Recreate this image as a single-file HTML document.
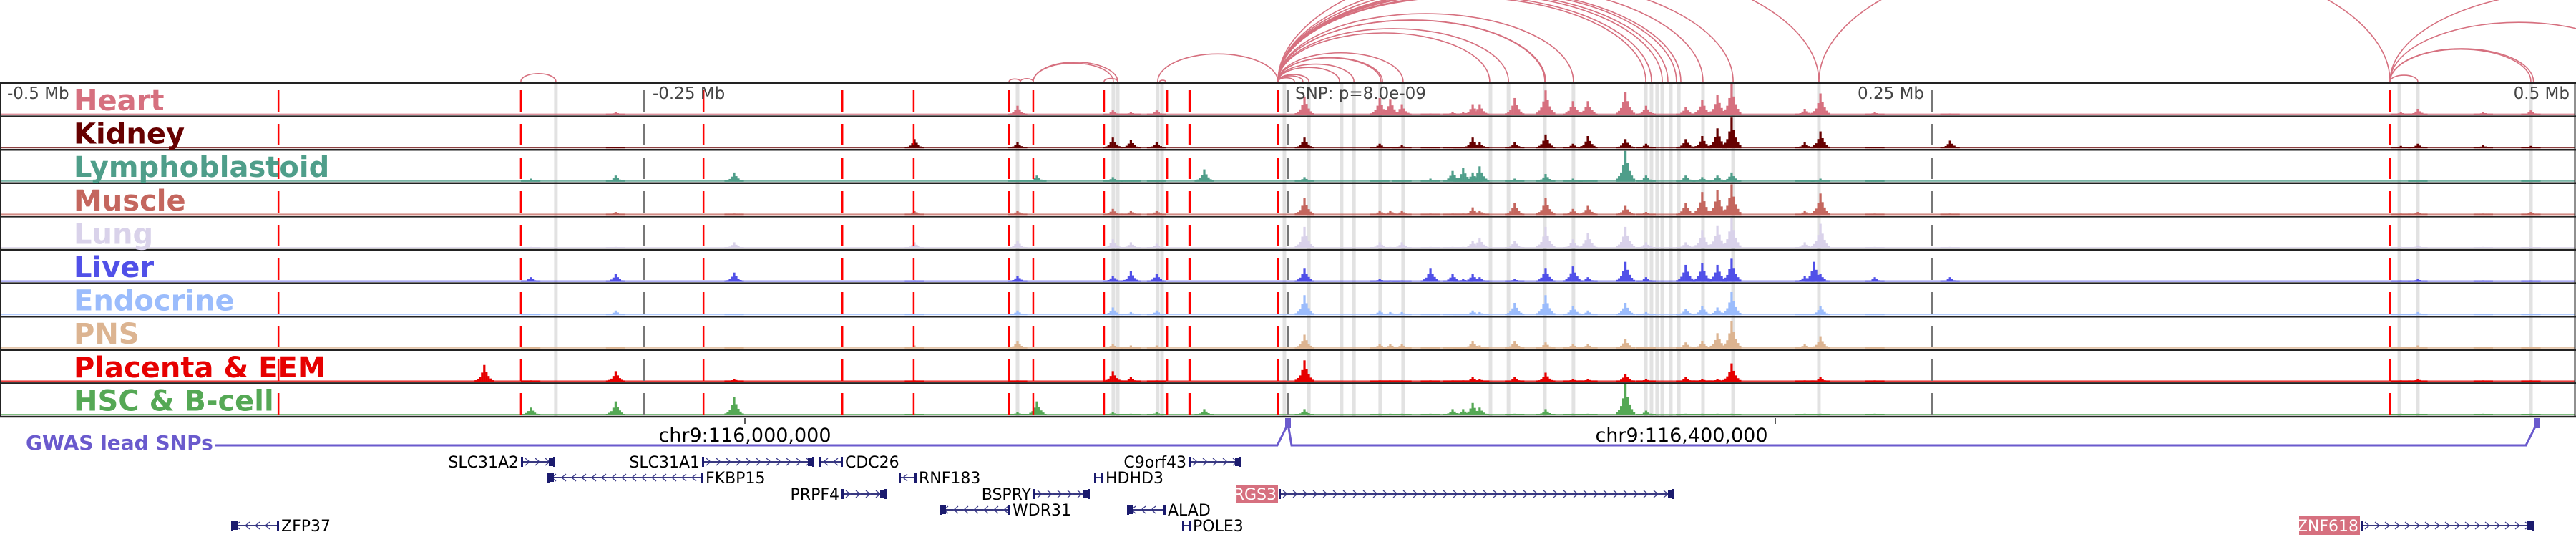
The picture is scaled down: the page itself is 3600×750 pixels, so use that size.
<!DOCTYPE html>
<html><head><meta charset="utf-8">
<style>
html,body{margin:0;padding:0;background:#fff;}
svg{display:block;}
text{font-family:"DejaVu Sans","Liberation Sans",sans-serif;}
</style></head>
<body>
<svg id="fig" width="3600" height="750" viewBox="0 0 3600 750" xmlns="http://www.w3.org/2000/svg">
<g id="bands"></g>
<g id="signals"></g>
<g id="snplines"></g>
<g id="arcs"></g>
<g id="frames"></g>
<g id="labels"></g>
<g id="axis">
  <text x="10" y="138" font-size="23" fill="#444">-0.5 Mb</text>
  <text x="912" y="138" font-size="23" fill="#444">-0.25 Mb</text>
  <text x="1810" y="138" font-size="23" fill="#444">SNP: p=8.0e-09</text>
  <text x="2689" y="138" font-size="23" fill="#444" text-anchor="end">0.25 Mb</text>
  <text x="3591" y="138" font-size="23" fill="#444" text-anchor="end">0.5 Mb</text>
</g>
<g id="gwas">
  <text x="36" y="628" font-size="28" font-weight="bold" fill="#6a5acd">GWAS lead SNPs</text>
  <polyline points="300,622 1785,622 1800,592" fill="none" stroke="#6a5acd" stroke-width="3"/>
  <polyline points="1800,592 1805,622 3530,622 3545,592" fill="none" stroke="#6a5acd" stroke-width="3"/>
  <rect x="1796" y="584" width="8" height="14" fill="#6a5acd"/>
  <rect x="3541" y="584" width="8" height="14" fill="#6a5acd"/>
  <line x1="1041" y1="584" x2="1041" y2="592" stroke="#222" stroke-width="1.5"/>
  <line x1="2481" y1="584" x2="2481" y2="592" stroke="#222" stroke-width="1.5"/>
  <text x="1041" y="617" font-size="27" text-anchor="middle" fill="#000">chr9:116,000,000</text>
  <text x="2350" y="617" font-size="27" text-anchor="middle" fill="#000">chr9:116,400,000</text>
</g>
<g id="genes"></g>
</svg>
<script>
// ---- data (genomic positions in kb relative to lead SNP) ----
const trackNames = ["Heart","Kidney","Lymphoblastoid","Muscle","Lung","Liver","Endocrine","PNS","Placenta & EEM","HSC & B-cell"];
const trackColors = ["#d6707f","#660000","#4f9e8a","#c4665e","#d9d2ea","#5050e8","#9bbcfc","#dcb491","#e60000","#55a855"];
const peakPos = [-312,-294,-261,-215,-145,-105,-97.5,-68,-61,-51,-32.5,6.4,35.6,39.7,44.2,55.3,63.9,68,71.7,74.4,88,100,110.6,116.4,131,139,154.4,160.8,166.7,172.2,200.6,204.2,206.7,227.8,257,432,438.6,464,482.5];
const heartVals =   [0,0,0.1,0,0,0.3,0,0.15,0.1,0.15,0,0.6,0.55,0.52,0.35,0.05,0.1,0.1,0.35,0.35,0.55,0.8,0.45,0.45,0.75,0.3,0.25,0.5,0.65,1.0,0.2,0,0.7,0.1,0.05,0.1,0.2,0.1,0.15];
const kidneyVals =  [0,0,0.05,0,0.3,0.2,0,0.35,0.28,0.2,0,0.35,0.15,0.05,0.1,0.05,0.05,0.05,0.35,0.2,0.2,0.45,0.15,0.4,0.3,0.15,0.3,0.4,0.65,1.0,0.2,0,0.55,0.05,0.25,0.08,0.15,0.1,0.08];
const lymphoVals =  [0,0.1,0.2,0.3,0,0.05,0.2,0.15,0.05,0.05,0.4,0.15,0.05,0,0.05,0.1,0.35,0.45,0.3,0.5,0.1,0.25,0.1,0.05,1.0,0.2,0.2,0.15,0.2,0.3,0.05,0,0.1,0.05,0,0,0.05,0,0.05];
const muscleVals =  [0,0,0.1,0.05,0.15,0.15,0,0.2,0.15,0.15,0,0.55,0.15,0.15,0.15,0.05,0.05,0.05,0.25,0.15,0.4,0.55,0.2,0.3,0.3,0.1,0.4,0.75,0.8,1.0,0.15,0,0.7,0.05,0.05,0.05,0.1,0.05,0.1];
const lungVals =    [0,0.05,0.05,0.2,0.2,0.25,0,0.3,0.2,0.15,0,0.7,0.2,0.05,0.2,0.05,0.05,0.05,0.25,0.35,0.25,0.7,0.3,0.5,0.7,0.2,0.2,0.6,0.75,1.0,0.2,0,0.8,0.05,0.05,0.05,0.1,0.05,0.05];
const liverVals =   [0,0.15,0.25,0.3,0.05,0.2,0,0.2,0.35,0.25,0,0.45,0.1,0.05,0.05,0.45,0.25,0.1,0.25,0.15,0.1,0.45,0.5,0.15,0.65,0.15,0.55,0.6,0.55,0.75,0.2,0.65,0.25,0.15,0.15,0.05,0.1,0.05,0.05];
const endoVals =    [0,0.05,0.15,0.05,0.05,0.15,0,0.25,0.1,0.15,0,0.65,0.15,0.1,0.1,0.05,0.05,0.05,0.15,0.1,0.4,0.65,0.3,0.15,0.4,0.1,0.2,0.3,0.25,0.75,0.05,0,0.3,0.05,0,0.05,0.1,0.05,0.05];
const pnsVals =     [0,0.05,0.05,0.05,0.1,0.25,0,0.15,0.1,0.1,0,0.45,0.15,0.15,0.15,0.05,0.05,0.05,0.25,0.1,0.25,0.2,0.15,0.15,0.3,0.05,0.2,0.25,0.5,0.9,0.15,0,0.4,0.05,0,0.05,0.1,0.05,0.05];
const placentaVals =[0.55,0.05,0.35,0.1,0.05,0.05,0,0.35,0.15,0.05,0,0.7,0.05,0.05,0.05,0.05,0.05,0.05,0.15,0.1,0.15,0.3,0.1,0.1,0.25,0.1,0.15,0.1,0.1,0.6,0.05,0,0.15,0.05,0,0.05,0.1,0.05,0.05];
const hscVals =     [0,0.25,0.45,0.6,0.05,0.1,0.45,0.1,0.05,0.1,0.2,0.2,0.05,0.05,0.05,0.05,0.2,0.2,0.4,0.25,0.05,0.2,0.05,0.05,1.0,0.15,0.05,0.05,0.05,0.05,0.05,0,0.05,0.05,0,0.05,0.05,0.05,0.05];
const snpLines = [-391.9,-297.8,-226.9,-173,-145.3,-108.3,-98.9,-71.4,-46.9,-38.1,-3.9,427.8];
const bandPos = [-284.2,-105,-67.8,-66.1,-50.6,-48.9,-1.4,8.1,20.8,25.6,35.8,44.7,78.6,85.6,99.7,110.8,138.9,141.1,143.3,145.3,148.6,151.7,161.1,172.8,206.1,431.4,438.6,482.5];
const axisTicks = [-250,0,250];
const arcStart = [-297.8,-108.3,-103.9,-98.9,-98.9,-71.4,-50.6,-49.8,
  -3.9,-3.9,-3.9,-3.9,-3.9,-3.9,-3.9,-3.9,-3.9,-3.9,-3.9,-3.9,-3.9,-3.9,-3.9,-3.9,-3.9,-3.9,-3.9,-3.9,-3.9,-3.9,
  206.1,427.8,427.8,427.8,427.8,427.8];
const arcEnd = [-284.2,-103.9,-98.9,-67.8,-66.1,-66.1,-3.9,-47.5,
  2.5,5.8,8.1,20,25.6,36.1,36.7,44.7,78.3,85.6,99.7,100,110.8,138.9,141.1,145.3,147.5,150.8,152.5,161.1,172.8,206.1,
  427.8,438.6,482.5,483.5,527.8,583.3];

// ---- scales ----
const X0 = 1800, PXKB = 3.6;
const xs = kb => X0 + kb * PXKB;
const TOP = 116, TH = 46.6, NT = 10;
const trackVals = [heartVals,kidneyVals,lymphoVals,muscleVals,lungVals,liverVals,endoVals,pnsVals,placentaVals,hscVals];
const NS = "http://www.w3.org/2000/svg";
function mk(tag, attrs, parent){const e=document.createElementNS(NS,tag);for(const k in attrs)e.setAttribute(k,attrs[k]);parent.appendChild(e);return e;}

// bands
const gB = document.getElementById('bands');
bandPos.forEach((kb)=>{
  const r = mk('rect',{x:xs(kb)-2.5,y:TOP,width:5,height:TH*NT,fill:'#e2e2e2'},gB);
  
  
});

// signals
const gS = document.getElementById('signals');
const shape=[0.1,0.18,0.3,0.55,1,0.6,0.35,0.2,0.1], offs=[-12,-9,-6,-3,0,3,6,9,12];
trackVals.forEach((vals,t)=>{
  const g = mk('g',{fill:trackColors[t]},gS);
  
  
  const base = TOP + TH*(t+1) - 2;
  const bl = mk('rect',{x:0,y:base-2,width:3598,height:2,opacity:0.75},g);
  
  
  peakPos.forEach((kb,i)=>{
    const v = vals[i]; if(!v) return;
    const cx = xs(kb);
    offs.forEach((o,j)=>{
      const h = Math.max(2, v*43*shape[j]);
      const b = mk('rect',{x:cx+o-1.6,y:base-h,width:3.2,height:h},g);
      
      
    });
  });
});

// snp red dashed lines
const gL = document.getElementById('snplines');
snpLines.forEach((kb)=>{
  const l = mk('line',{x1:xs(kb),y1:TOP,x2:xs(kb),y2:TOP+TH*NT,stroke:'#ff0000','stroke-width':(Math.abs(kb+38.1)<0.5?4:2.5),'stroke-dasharray':'30 17','stroke-dashoffset':'-10'},gL);
  
  
});
axisTicks.forEach((kb)=>{
  const l = mk('line',{x1:xs(kb),y1:TOP,x2:xs(kb),y2:TOP+TH*NT,stroke:'#777','stroke-width':2,'stroke-dasharray':'30 17','stroke-dashoffset':'-10'},gL);
  
  
});

// arcs
const gA = document.getElementById('arcs');
arcStart.forEach((s,i)=>{
  const x1 = xs(s), x2 = xs(arcEnd[i]);
  const hw = Math.abs(x2-x1)/2;
  const h = 0.46*hw;
  const base = 114;
  const p = mk('path',{d:`M${x1},${base} A${hw},${h} 0 0 1 ${x2},${base}`,fill:'none',stroke:'#d6707f','stroke-width':1.6},gA);
  
  
});

// frames
const gF = document.getElementById('frames');
for(let t=0;t<=NT;t++){
  const y = TOP + TH*t;
  const l = mk('line',{x1:0,y1:y,x2:3600,y2:y,stroke:'#222','stroke-width':2.5},gF);
  
  
}
const lb = mk('line',{x1:1,y1:TOP,x2:1,y2:TOP+TH*NT,stroke:'#222','stroke-width':2},gF);


const rb = mk('line',{x1:3598.5,y1:TOP,x2:3598.5,y2:TOP+TH*NT,stroke:'#222','stroke-width':2},gF);



// labels
const gT = document.getElementById('labels');
trackNames.forEach((n,t)=>{
  const tx = mk('text',{x:103,y:TOP+TH*t+38,'font-size':40,'font-weight':'bold',fill:trackColors[t]},gT);
  tx.textContent = n;
  
  
});

// genes
const geneName = ["SLC31A2","SLC31A1","CDC26","FKBP15","RNF183","PRPF4","BSPRY","WDR31","C9orf43","HDHD3","ALAD","POLE3","RGS3","ZFP37","ZNF618"];
const geneStart = [729,982,1146,766,1257,1177,1445,1314,1662,1530,1576,1653,1788,324,3300];
const geneEnd   = [775,1137,1177,982,1280,1238,1522,1411,1734,1541,1628,1663,2339,389,3540];
const geneRow   = [0,0,0,1,1,2,2,3,0,1,3,4,2,4,4];
const geneStrand= [1,1,-1,-1,-1,1,1,-1,1,-1,-1,1,1,-1,1];
const geneSide  = ['L','L','R','R','R','L','L','R','L','R','R','R','L','R','L'];
const geneHi    = [0,0,0,0,0,0,0,0,0,0,0,0,1,0,1];
const rowY = [645,667,690,712,734];
const gG = document.getElementById('genes');
geneName.forEach((n,i)=>{
  const g = mk('g',{},gG);
  
  
  const y = rowY[geneRow[i]], a = geneStart[i], b = geneEnd[i], s = geneStrand[i];
  mk('line',{x1:a,y1:y,x2:b,y2:y,stroke:'#1b1b6e','stroke-width':1.8},g);
  for(let x=a+8;x<b-4;x+=14){
    mk('polyline',{points:`${x-3*s},${y-5} ${x+3*s},${y} ${x-3*s},${y+5}`,fill:'none',stroke:'#3a3a8a','stroke-width':1.2},g);
  }
  mk('rect',{x:a-1,y:y-7,width:3,height:14,fill:'#1b1b6e'},g);
  mk('rect',{x:b-2,y:y-7,width:3,height:14,fill:'#1b1b6e'},g);
  if(b-a>40){
    const bx = s>0? b-8 : a;
    mk('rect',{x:bx,y:y-6,width:8,height:12,fill:'#1b1b6e'},g);
  }
  const tw = n.length*13.5;
  if(geneHi[i]){
    mk('rect',{x:a-tw-6,y:y-13,width:tw+4,height:26,fill:'#d6707f'},g);
  }
  const t = mk('text',{x:geneSide[i]==='L'? a-4 : b+4,y:y+8,'font-size':22,'text-anchor':geneSide[i]==='L'?'end':'start',fill:geneHi[i]?'#fff':'#000'},g);
  t.textContent = n;
});
</script>
</body></html>
